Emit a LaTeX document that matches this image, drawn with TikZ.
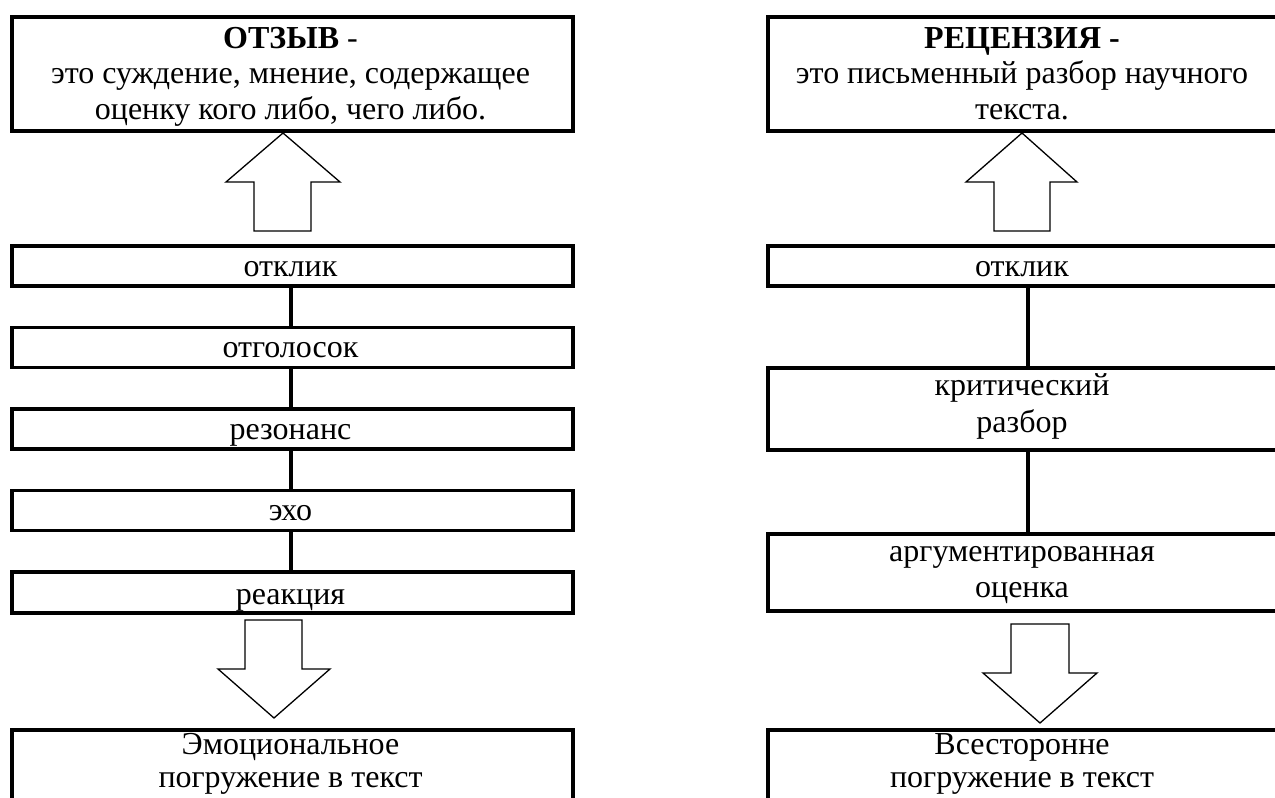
\documentclass[tikz,border=0pt]{standalone}
\usepackage{fontspec}
\setmainfont{Liberation Serif}
\begin{document}
\begin{tikzpicture}[x=1pt,y=-1pt,
  boxst/.style={draw,line width=3.6pt,rectangle,inner sep=0pt,anchor=north west},
  arrowst/.style={draw,line width=1.3pt,line join=miter},
  conn/.style={line width=3.6pt},
  txt/.style={font=\fontsize{32}{35.5}\selectfont,inner sep=0pt,anchor=base}]
\useasboundingbox (0,0) rectangle (1275,798);
\clip (0,0) rectangle (1275,798);
% ---------- left column ----------
\node[boxst,minimum width=561pt,minimum height=114pt] (lt) at (10,15) {};
\node[txt] (lta) at (290.5,48) {\textbf{ОТЗЫВ} -};
\node[txt] (ltb) at (290.5,83.5) {это суждение, мнение, содержащее};
\node[txt] (ltc) at (290.5,119) {оценку кого либо, чего либо.};
\draw[arrowst] (283,133) -- (340,182) -- (311,182) -- (311,231) -- (254,231) -- (254,182) -- (226,182) -- cycle;
\node[boxst,minimum width=561pt,minimum height=40pt] (l1) at (10,244) {};
\node[txt] (l1t) at (290.5,276) {отклик};
\node[boxst,minimum width=561pt,minimum height=40pt] (l2) at (10,325.5) {};
\node[txt] (l2t) at (290.5,357.5) {отголосок};
\node[boxst,minimum width=561pt,minimum height=40pt] (l3) at (10,407) {};
\node[txt] (l3t) at (290.5,439) {резонанс};
\node[boxst,minimum width=561pt,minimum height=40pt] (l4) at (10,488.5) {};
\node[txt] (l4t) at (290.5,520.5) {эхо};
\node[boxst,minimum width=561pt,minimum height=41pt] (l5) at (10,570) {};
\node[txt] (l5t) at (290.5,604) {реакция};
\draw[conn] ([xshift=-1.5pt]l1.south) -- ([xshift=-1.5pt]l2.north);
\draw[conn] ([xshift=-1.5pt]l2.south) -- ([xshift=-1.5pt]l3.north);
\draw[conn] ([xshift=-1.5pt]l3.south) -- ([xshift=-1.5pt]l4.north);
\draw[conn] ([xshift=-1.5pt]l4.south) -- ([xshift=-1.5pt]l5.north);
\draw[arrowst] (245,620) -- (302,620) -- (302,669) -- (330,669) -- (274,718) -- (218,669) -- (245,669) -- cycle;
\node[boxst,minimum width=561pt,minimum height=200pt] (lb) at (10,728) {};
\node[txt] (lba) at (290.5,754) {Эмоциональное};
\node[txt] (lbb) at (290.5,787) {погружение в текст};
% ---------- right column ----------
\node[boxst,minimum width=520pt,minimum height=114pt] (rt) at (766,15) {};
\node[txt] (rta) at (1022,48) {\textbf{РЕЦЕНЗИЯ -}};
\node[txt] (rtb) at (1022,83.5) {это письменный разбор научного};
\node[txt] (rtc) at (1022,119) {текста.};
\draw[arrowst] (1022,133) -- (1077,182) -- (1050,182) -- (1050,231) -- (994,231) -- (994,182) -- (966,182) -- cycle;
\node[boxst,minimum width=520pt,minimum height=40pt] (r1) at (766,244) {};
\node[txt] (r1t) at (1022,276) {отклик};
\node[boxst,minimum width=520pt,minimum height=82pt] (r2) at (766,366) {};
\node[txt] (r2a) at (1022,395) {критический};
\node[txt] (r2b) at (1022,432) {разбор};
\node[boxst,minimum width=520pt,minimum height=77pt] (r3) at (766,532) {};
\node[txt] (r3a) at (1022,561) {аргументированная};
\node[txt] (r3b) at (1022,597) {оценка};
\draw[conn] (r1.south) -- (r2.north);
\draw[conn] (r2.south) -- (r3.north);
\draw[arrowst] (1011,624) -- (1069,624) -- (1069,673) -- (1097,673) -- (1040,723) -- (983,673) -- (1011,673) -- cycle;
\node[boxst,minimum width=520pt,minimum height=200pt] (rb) at (766,728) {};
\node[txt] (rba) at (1022,754) {Всесторонне};
\node[txt] (rbb) at (1022,787) {погружение в текст};
\end{tikzpicture}
\end{document}
